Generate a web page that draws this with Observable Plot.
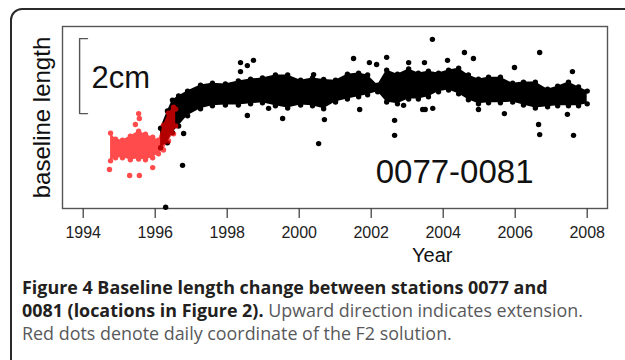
<!DOCTYPE html>
<html><head><meta charset="utf-8">
<script src="https://cdn.jsdelivr.net/npm/d3@7"></script>
<script src="https://cdn.jsdelivr.net/npm/@observablehq/plot@0.6"></script>
<style>
html,body{margin:0;padding:0;background:#fff;width:625px;height:360px;overflow:hidden;}
#wrap{position:relative;width:625px;height:360px;overflow:hidden;}
#chart{position:absolute;left:0;top:0;}
#frame{position:absolute;left:10px;top:8px;width:700px;height:500px;border:2px solid #2a2a2a;border-radius:12px;pointer-events:none;}
#caption{position:absolute;left:22px;top:276px;white-space:nowrap;font-family:"Open Sans",sans-serif;font-size:17.9px;line-height:22.8px;color:#58595b;}
#caption b{color:#231f20;font-weight:700;}
</style></head>
<body>
<div id="wrap">
<div id="chart"></div>
<div id="caption"><b>Figure 4 Baseline length change between stations 0077 and<br>0081 (locations in Figure 2).</b> Upward direction indicates extension.<br>Red dots denote daily coordinate of the F2 solution.</div>
<div id="frame"></div>
</div>
<script>
// ---- data (baseline length, mm, arbitrary origin) ----
const xTicks = [1994, 1996, 1998, 2000, 2002, 2004, 2006, 2008];
const stationPair = "0077-0081";
const yLabel = "baseline length";
const xLabel = "Year";
const scaleBarLabel = "2cm";
const scaleBarLengthMm = 20;
const scaleBarBaseMm = 25.3;

// envelope of the dense daily cloud (black = final solution)
const blackYears = [1996.15,1996.34,1996.48,1996.65,1996.90,1997.26,1997.59,1997.95,1998.31,1998.65,1998.98,1999.34,1999.68,2000.04,2000.37,2000.68,2001.01,2001.34,2001.65,2001.90,2002.18,2002.43,2002.73,2003.04,2003.31,2003.59,2003.87,2004.15,2004.43,2004.70,2004.98,2005.26,2005.59,2005.93,2006.23,2006.56,2006.90,2007.18,2007.48,2007.76,2008.00];
const blackUpper = [21.4,26.0,28.9,30.0,31.3,32.9,33.4,33.2,34.0,34.5,34.8,35.6,35.6,34.2,34.8,34.4,34.2,35.8,36.1,35.6,32.9,36.9,35.8,37.2,36.1,36.6,36.1,36.9,37.4,35.6,34.5,35.0,35.0,33.4,33.7,33.7,31.8,32.6,33.7,32.4,31.3];
const blackLower = [16.2,17.5,20.2,22.0,24.7,26.6,27.4,27.6,27.6,27.9,28.2,27.4,26.8,27.6,27.4,26.6,28.4,29.2,29.8,30.3,31.1,28.4,27.9,29.2,29.2,29.8,31.1,31.6,30.6,29.0,27.9,28.2,28.2,28.4,27.6,26.8,27.1,27.4,27.4,27.4,27.9];

// isolated daily values (black)
const blackOutYears = [1998.37,1998.56,1998.73,1998.37,1998.56,1999.15,1999.54,2000.54,1996.76,1996.29,1996.79,2000.40,2000.70,2001.51,2001.68,2001.95,2002.15,2002.43,2002.65,2002.65,2002.90,2003.04,2003.48,2003.43,2003.50,2003.71,2003.70,2004.12,2004.59,2004.84,2004.98,2005.70,2005.98,2006.68,2006.65,2006.68,2007.45,2007.59,2007.62];
const blackOutMm    = [38.9,38.1,39.5,36.5,24.8,26.7,24.0,17.3,11.5,0.35,20.0,35.7,23.7,40.0,26.4,38.9,38.4,40.3,23.5,19.5,27.5,38.9,38.9,26.4,26.4,26.7,45.1,39.5,41.6,40.0,26.4,25.3,37.6,41.6,22.4,19.7,25.1,36.5,19.5];

// F2 solution (red)
const redYears = [1994.76,1994.90,1995.09,1995.31,1995.54,1995.73,1995.93,1996.09,1996.23,1996.37,1996.51,1996.57];
const redUpper = [20.1,18.5,18.2,19.3,20.6,19.8,19.0,18.2,22.2,25.4,27.0,26.5];
const redLower = [12.7,13.5,13.5,13.0,13.2,13.0,13.5,14.6,15.6,18.0,19.9,22.0];
const redOutYears = [1994.73,1995.29,1995.56,1995.93,1995.54,1995.56,1995.45];
const redOutMm    = [10.4,8.8,8.8,10.9,25.3,24.0,22.4];

// ---- tables ----
const black = blackYears.map((x, i) => ({x, hi: blackUpper[i], lo: blackLower[i]}));
const blackOut = blackOutYears.map((x, i) => ({x, y: blackOutMm[i]}));
const red = redYears.map((x, i) => ({x, hi: redUpper[i], lo: redLower[i]}));
const redOut = redOutYears.map((x, i) => ({x, y: redOutMm[i]}));

const xDomain = [1993.425, 2008.564];
const barX0 = 1993.90, barX1 = 1994.12;
const bar = [
  {x: barX1, y: scaleBarBaseMm + scaleBarLengthMm},
  {x: barX0, y: scaleBarBaseMm + scaleBarLengthMm},
  {x: barX0, y: scaleBarBaseMm},
  {x: barX1, y: scaleBarBaseMm}
];

const R = 2.7;
const RED = "red";
const plot = Plot.plot({
  width: 625, height: 272,
  marginLeft: 62, marginRight: 18, marginTop: 26, marginBottom: 64,
  style: {fontFamily: "'Liberation Sans', Arial, sans-serif", background: "transparent", overflow: "visible", color: "#222"},
  x: {domain: xDomain, axis: null},
  y: {domain: [0, 48.53], axis: null},
  marks: [
    Plot.frame({stroke: "#555", strokeWidth: 1.4}),
    Plot.axisX({ticks: xTicks, tickFormat: d => String(d), tickSize: 10, tickPadding: 8.6, fontSize: 16, label: null, stroke: "#444", strokeWidth: 1.3, fill: "#222"}),
    Plot.areaY(black, {x: "x", y1: "lo", y2: "hi", fill: "black", curve: "linear"}),
    Plot.dot(black, {x: "x", y: "hi", r: R, fill: "black"}),
    Plot.dot(black, {x: "x", y: "lo", r: R, fill: "black"}),
    Plot.dot(blackOut, {x: "x", y: "y", r: R, fill: "black"}),
    Plot.areaY(red, {x: "x", y1: "lo", y2: "hi", fill: RED, curve: "linear"}),
    Plot.dot(red, {x: "x", y: "hi", r: R, fill: RED}),
    Plot.dot(red, {x: "x", y: "lo", r: R, fill: RED}),
    Plot.dot(redOut, {x: "x", y: "y", r: R, fill: RED}),
    Plot.line(bar, {x: "x", y: "y", stroke: "#555", strokeWidth: 1.4}),
    Plot.text([scaleBarLabel], {frameAnchor: "top-left", dx: 29, dy: 39, textAnchor: "start", fontSize: 31, fill: "#111"}),
    Plot.text([stationPair], {frameAnchor: "bottom-right", dx: -74, dy: -26, textAnchor: "end", fontSize: 33, fill: "#111"}),
    Plot.text([yLabel], {frameAnchor: "left", rotate: -90, dx: -19.7, textAnchor: "middle", fontSize: 24, fill: "#111"}),
    Plot.text([xLabel], {frameAnchor: "bottom-right", dx: -155, dy: 53, textAnchor: "end", fontSize: 20, fill: "#111"})
  ]
});

// group the F2 marks so that their transparency is applied once
const reds = Array.from(plot.querySelectorAll('g[fill="red"]'));
if (reds.length) {
  const g = document.createElementNS("http://www.w3.org/2000/svg", "g");
  g.setAttribute("opacity", 0.7);
  reds[0].parentNode.insertBefore(g, reds[0]);
  reds.forEach(r => g.appendChild(r));
}
document.getElementById("chart").appendChild(plot);
</script>
</body></html>
